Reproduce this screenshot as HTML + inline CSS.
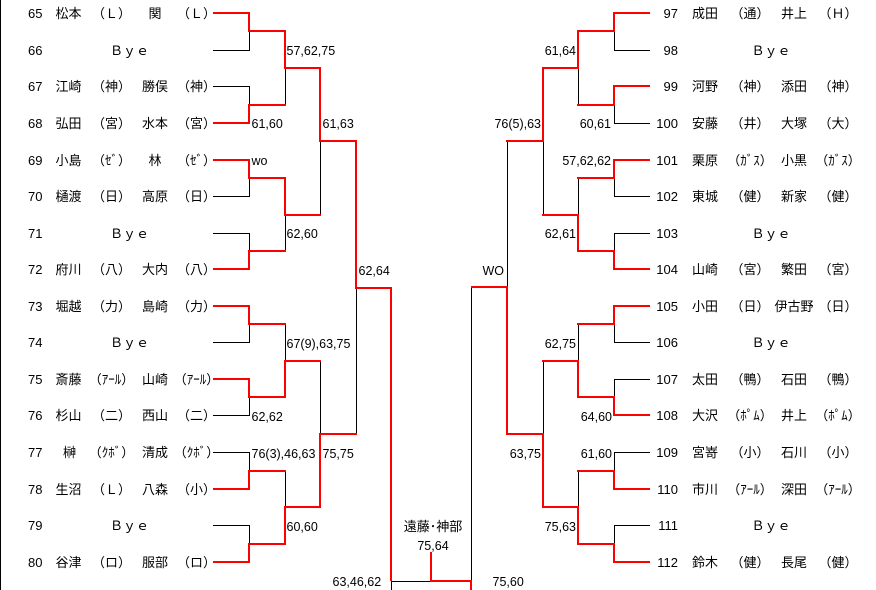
<!DOCTYPE html>
<html><head><meta charset="utf-8">
<style>
html,body{margin:0;padding:0;background:#fff;}
body{width:876px;height:590px;overflow:hidden;}
svg{display:block;}
text{font-family:"Liberation Sans","Noto Sans CJK JP",sans-serif;font-size:13px;fill:#000;}
.s{font-size:12.5px;}
.m{text-anchor:middle;}
.e{text-anchor:end;}
</style></head><body>
<svg width="876" height="590" viewBox="0 0 876 590" xmlns="http://www.w3.org/2000/svg">
<g fill="none" stroke="#000" stroke-width="1" shape-rendering="crispEdges">
<path d="M0.5 0V590"/>
<!-- left R1 black -->
<path d="M213 50.5H249.5V31"/>
<path d="M213 86.5H249.5V105"/>
<path d="M213 196.5H249.5V178"/>
<path d="M213 233.5H249.5V251"/>
<path d="M213 342.5H249.5V324"/>
<path d="M213 415.5H249.5V397"/>
<path d="M213 452.5H249.5V471"/>
<path d="M213 525.5H249.5V544"/>
<!-- left R2/R3/R4 black -->
<path d="M285.5 68V105"/>
<path d="M285.5 215V251"/>
<path d="M285.5 324V361"/>
<path d="M285.5 471V507"/>
<path d="M320.5 141V215"/>
<path d="M320.5 361V434"/>
<path d="M356.5 288V434"/>
<!-- final black -->
<path d="M391.5 581.5H431"/>
<path d="M391.5 581V590"/>
<path d="M471.5 287V581"/>
<!-- right R1 black -->
<path d="M650 50.5H614.5V31"/>
<path d="M650 123.5H614.5V105"/>
<path d="M650 196.5H614.5V178"/>
<path d="M650 233.5H614.5V251"/>
<path d="M650 342.5H614.5V324"/>
<path d="M650 379.5H614.5V397"/>
<path d="M650 452.5H614.5V471"/>
<path d="M650 525.5H614.5V544"/>
<!-- right R2/R3/R4 black -->
<path d="M578.5 68V105"/>
<path d="M578.5 178V215"/>
<path d="M578.5 324V361"/>
<path d="M578.5 471V507"/>
<path d="M543.5 141V215"/>
<path d="M543.5 361V434"/>
<path d="M507.5 141V287"/>
</g>
<g fill="none" stroke="#ff0000" stroke-width="2" stroke-linejoin="miter" stroke-linecap="square" shape-rendering="crispEdges">
<!-- left R1 red -->
<path d="M214 13H249V31H285"/>
<path d="M214 123H249V105H285"/>
<path d="M214 160H249V178H285"/>
<path d="M214 269H249V251H285"/>
<path d="M214 306H249V324H285"/>
<path d="M214 379H249V397H285"/>
<path d="M214 489H249V471H285"/>
<path d="M214 562H249V544H285"/>
<!-- left R2 -->
<path d="M285 31V68H320"/>
<path d="M285 178V215H320"/>
<path d="M285 397V361H320"/>
<path d="M285 544V507H320"/>
<!-- left R3 -->
<path d="M320 68V141H356"/>
<path d="M320 507V434H356"/>
<!-- left R4 -->
<path d="M356 141V288H391V580"/>
<!-- final -->
<path d="M431 553V581H471V590"/>
<!-- right R1 red -->
<path d="M649 13H614V31H578"/>
<path d="M649 86H614V105H578"/>
<path d="M649 160H614V178H578"/>
<path d="M649 269H614V251H578"/>
<path d="M649 306H614V324H578"/>
<path d="M649 415H614V397H578"/>
<path d="M649 489H614V471H578"/>
<path d="M649 562H614V544H578"/>
<!-- right R2 -->
<path d="M578 31V68H543"/>
<path d="M578 251V215H543"/>
<path d="M578 397V361H543"/>
<path d="M578 544V507H543"/>
<!-- right R3 -->
<path d="M543 68V141H507"/>
<path d="M543 507V434H507"/>
<!-- right R4 -->
<path d="M507 434V287H472"/>
</g>

<!-- LEFT ROWS -->
<g>
<text x="28" y="18">65</text><text class="m" x="68.5" y="18">松本</text><text class="m" x="111.5" y="18">（Ｌ）</text><text class="m" x="155" y="18">関</text><text class="m" x="196.5" y="18">（Ｌ）</text>
<text x="28" y="55">66</text><text class="m" x="129.5" y="55">Ｂｙｅ</text>
<text x="28" y="91">67</text><text class="m" x="68.5" y="91">江崎</text><text class="m" x="111.5" y="91">（神）</text><text class="m" x="155" y="91">勝俣</text><text class="m" x="196.5" y="91">（神）</text>
<text x="28" y="128">68</text><text class="m" x="68.5" y="128">弘田</text><text class="m" x="111.5" y="128">（宮）</text><text class="m" x="155" y="128">水本</text><text class="m" x="196.5" y="128">（宮）</text>
<text x="28" y="165">69</text><text class="m" x="68.5" y="165">小島</text><text class="m" x="111.5" y="165">（ｾﾞ）</text><text class="m" x="155" y="165">林</text><text class="m" x="196.5" y="165">（ｾﾞ）</text>
<text x="28" y="201">70</text><text class="m" x="68.5" y="201">樋渡</text><text class="m" x="111.5" y="201">（日）</text><text class="m" x="155" y="201">高原</text><text class="m" x="196.5" y="201">（日）</text>
<text x="28" y="238">71</text><text class="m" x="129.5" y="238">Ｂｙｅ</text>
<text x="28" y="274">72</text><text class="m" x="68.5" y="274">府川</text><text class="m" x="111.5" y="274">（八）</text><text class="m" x="155" y="274">大内</text><text class="m" x="196.5" y="274">（八）</text>
<text x="28" y="311">73</text><text class="m" x="68.5" y="311">堀越</text><text class="m" x="111.5" y="311">（力）</text><text class="m" x="155" y="311">島崎</text><text class="m" x="196.5" y="311">（力）</text>
<text x="28" y="347">74</text><text class="m" x="129.5" y="347">Ｂｙｅ</text>
<text x="28" y="384">75</text><text class="m" x="68.5" y="384">斎藤</text><text class="m" x="111.5" y="384">（ｱｰﾙ）</text><text class="m" x="155" y="384">山崎</text><text class="m" x="196.5" y="384">（ｱｰﾙ）</text>
<text x="28" y="420">76</text><text class="m" x="68.5" y="420">杉山</text><text class="m" x="111.5" y="420">（二）</text><text class="m" x="155" y="420">西山</text><text class="m" x="196.5" y="420">（二）</text>
<text x="28" y="457">77</text><text class="m" x="69.5" y="457">榊</text><text class="m" x="111.5" y="457">（ｸﾎﾞ）</text><text class="m" x="155" y="457">清成</text><text class="m" x="196.5" y="457">（ｸﾎﾞ）</text>
<text x="28" y="494">78</text><text class="m" x="68.5" y="494">生沼</text><text class="m" x="111.5" y="494">（Ｌ）</text><text class="m" x="155" y="494">八森</text><text class="m" x="196.5" y="494">（小）</text>
<text x="28" y="530">79</text><text class="m" x="129.5" y="530">Ｂｙｅ</text>
<text x="28" y="567">80</text><text class="m" x="68.5" y="567">谷津</text><text class="m" x="111.5" y="567">（ロ）</text><text class="m" x="155" y="567">服部</text><text class="m" x="196.5" y="567">（ロ）</text>
</g>

<!-- RIGHT ROWS -->
<g>
<text class="e" x="678" y="18">97</text><text class="m" x="705" y="18">成田</text><text class="m" x="750" y="18">（通）</text><text class="m" x="794" y="18">井上</text><text class="m" x="838" y="18">（Ｈ）</text>
<text class="e" x="678" y="55">98</text><text class="m" x="771" y="55">Ｂｙｅ</text>
<text class="e" x="678" y="91">99</text><text class="m" x="705" y="91">河野</text><text class="m" x="750" y="91">（神）</text><text class="m" x="794" y="91">添田</text><text class="m" x="838" y="91">（神）</text>
<text class="e" x="678" y="128">100</text><text class="m" x="705" y="128">安藤</text><text class="m" x="750" y="128">（井）</text><text class="m" x="794" y="128">大塚</text><text class="m" x="838" y="128">（大）</text>
<text class="e" x="678" y="165">101</text><text class="m" x="705" y="165">栗原</text><text class="m" x="750" y="165">（ｶﾞｽ）</text><text class="m" x="794" y="165">小黒</text><text class="m" x="838" y="165">（ｶﾞｽ）</text>
<text class="e" x="678" y="201">102</text><text class="m" x="705" y="201">東城</text><text class="m" x="750" y="201">（健）</text><text class="m" x="794" y="201">新家</text><text class="m" x="838" y="201">（健）</text>
<text class="e" x="678" y="238">103</text><text class="m" x="771" y="238">Ｂｙｅ</text>
<text class="e" x="678" y="274">104</text><text class="m" x="705" y="274">山崎</text><text class="m" x="750" y="274">（宮）</text><text class="m" x="794" y="274">繁田</text><text class="m" x="838" y="274">（宮）</text>
<text class="e" x="678" y="311">105</text><text class="m" x="705" y="311">小田</text><text class="m" x="750" y="311">（日）</text><text class="m" x="794" y="311">伊古野</text><text class="m" x="838" y="311">（日）</text>
<text class="e" x="678" y="347">106</text><text class="m" x="771" y="347">Ｂｙｅ</text>
<text class="e" x="678" y="384">107</text><text class="m" x="705" y="384">太田</text><text class="m" x="750" y="384">（鴨）</text><text class="m" x="794" y="384">石田</text><text class="m" x="838" y="384">（鴨）</text>
<text class="e" x="678" y="420">108</text><text class="m" x="705" y="420">大沢</text><text class="m" x="750" y="420">（ﾎﾟﾑ）</text><text class="m" x="794" y="420">井上</text><text class="m" x="838" y="420">（ﾎﾟﾑ）</text>
<text class="e" x="678" y="457">109</text><text class="m" x="705" y="457">宮嵜</text><text class="m" x="750" y="457">（小）</text><text class="m" x="794" y="457">石川</text><text class="m" x="838" y="457">（小）</text>
<text class="e" x="678" y="494">110</text><text class="m" x="705" y="494">市川</text><text class="m" x="750" y="494">（ｱｰﾙ）</text><text class="m" x="794" y="494">深田</text><text class="m" x="838" y="494">（ｱｰﾙ）</text>
<text class="e" x="678" y="530">111</text><text class="m" x="771" y="530">Ｂｙｅ</text>
<text class="e" x="678" y="567">112</text><text class="m" x="705" y="567">鈴木</text><text class="m" x="750" y="567">（健）</text><text class="m" x="794" y="567">長尾</text><text class="m" x="838" y="567">（健）</text>
</g>

<!-- LEFT SCORES -->
<g class="s">
<text class="s" x="286.5" y="55">57,62,75</text>
<text class="s" x="251.5" y="128">61,60</text>
<text class="s" x="322.5" y="128">61,63</text>
<text class="s" x="251.5" y="165">wo</text>
<text class="s" x="286.5" y="238">62,60</text>
<text class="s" x="358.5" y="275">62,64</text>
<text class="s" x="286.5" y="348">67(9),63,75</text>
<text class="s" x="251.5" y="421">62,62</text>
<text class="s" x="251.5" y="458">76(3),46,63</text>
<text class="s" x="322.5" y="458">75,75</text>
<text class="s" x="286.5" y="531">60,60</text>
<text class="s" x="332.5" y="586">63,46,62</text>
</g>

<!-- RIGHT SCORES -->
<g>
<text class="s e" x="576" y="55">61,64</text>
<text class="s e" x="611" y="128">60,61</text>
<text class="s e" x="541" y="128">76(5),63</text>
<text class="s e" x="611" y="165">57,62,62</text>
<text class="s e" x="576" y="238">62,61</text>
<text class="s e" x="504" y="275">WO</text>
<text class="s e" x="576" y="348">62,75</text>
<text class="s e" x="612" y="421">64,60</text>
<text class="s e" x="541" y="458">63,75</text>
<text class="s e" x="612" y="458">61,60</text>
<text class="s e" x="576" y="531">75,63</text>
<text class="s" x="492.5" y="586">75,60</text>
</g>

<!-- CENTER -->
<text class="m" x="433" y="531">遠藤･神部</text>
<text class="s m" x="433" y="550">75,64</text>
</svg>
</body></html>
